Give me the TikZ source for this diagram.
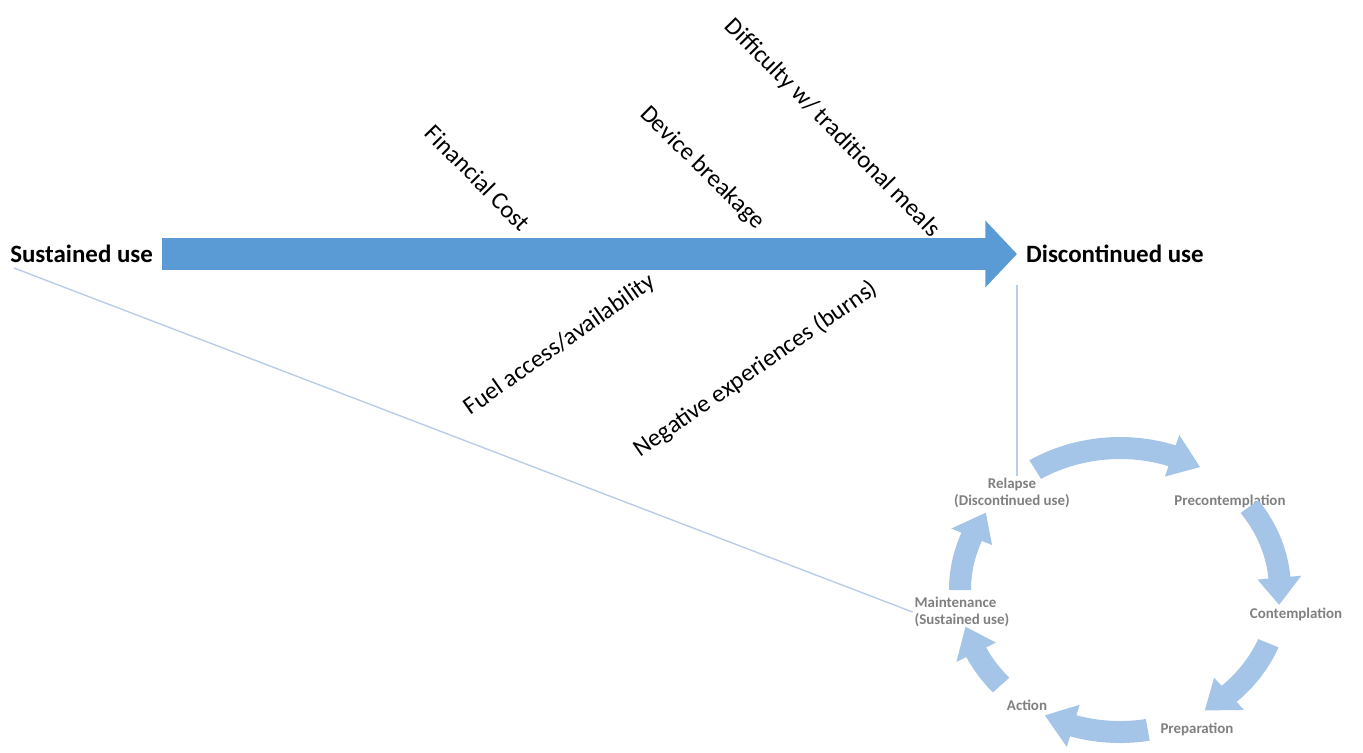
\documentclass[tikz,border=0pt]{standalone}
\usepackage{fontspec}
\setmainfont{Carlito}
\usetikzlibrary{arrows.meta,positioning}
\definecolor{mainblue}{RGB}{91,155,213}
\definecolor{cycblue}{RGB}{164,196,232}
\definecolor{linkblue}{RGB}{185,205,232}
\definecolor{labgray}{RGB}{128,128,128}

\begin{document}
\begin{tikzpicture}[x=0.02cm, y=-0.02cm,
  endlab/.style={font=\fontsize{14.2}{16}\selectfont\bfseries, inner xsep=5pt, inner ysep=1pt},
  barrier/.style={font=\fontsize{14}{16}\selectfont, inner sep=0pt},
  stage/.style={font=\fontsize{8.5}{10}\selectfont\bfseries, text=labgray, inner sep=1pt, align=center},
  bigarr/.style={mainblue, line width=18pt, -{Triangle[width=37pt, length=18pt]}},
  cycarr/.style={fill=cycblue},
  link/.style={linkblue, line width=0.8pt}
]
  \useasboundingbox (0,0) rectangle (1363,752);
  % ---------------- ends of the main arrow ----------------
  \node[endlab, anchor=east] (sust) at (162,254) {Sustained use};
  \node[endlab, anchor=west] (disc) at (1017,254) {Discontinued use};
  \draw[bigarr] (sust) -- (disc);
  % barriers above the arrow
  \node[barrier, rotate=-45.5] (cost) at (478,178) {Financial Cost};
  \node[barrier, rotate=-44.5] (break) at (702,168) {Device breakage};
  \node[barrier, rotate=-45.5] (meals) at (832,128) {Difficulty w/ traditional meals};
  % barriers below the arrow
  \node[barrier, rotate=35] (fuel) at (560,345) {Fuel access/availability};
  \node[barrier, rotate=34.7] (burns) at (756,369) {Negative experiences (burns)};
  % ---------------- stages of change ----------------
  \node[stage] (relapse) at (1012,493) {Relapse\\(Discontinued use)};
  \node[stage] (precon) at (1230,501) {Precontemplation};
  \node[stage] (contem) at (1296,614) {Contemplation};
  \node[stage] (prep) at (1197,729) {Preparation};
  \node[stage] (action) at (1027,705) {Action};
  \node[stage, align=left] (maint) at (962,612) {Maintenance\\(Sustained use)};
  % cycle arrows round the stages (start/tip angles on the ellipse)
  \foreach \a/\b in {122/60, 36/-6, -22/-58, -80/-118, -138/-165, 180/147}{
    \pgfmathsetmacro\h{\b+11}
    \fill[cycarr] plot[domain=\a:\h, samples=30] ({1120+171*cos(\x)}, {590-153*sin(\x)})
      -- ({1120+182*cos(\h)}, {590-164*sin(\h)})
      -- ({1120+160*cos(\b)}, {590-142*sin(\b)})
      -- ({1120+138*cos(\h)}, {590-120*sin(\h)})
      -- plot[domain=\h:\a, samples=30] ({1120+149*cos(\x)}, {590-131*sin(\x)})
      -- cycle;
  }
  % ---------------- links ----------------
  \coordinate (sustfoot) at (14,268);
  \coordinate (drop) at (1017,285);
  \draw[link] (sustfoot) -- (maint.west);
  \draw[link] (drop) -- (drop |- relapse.north);
\end{tikzpicture}
\end{document}
